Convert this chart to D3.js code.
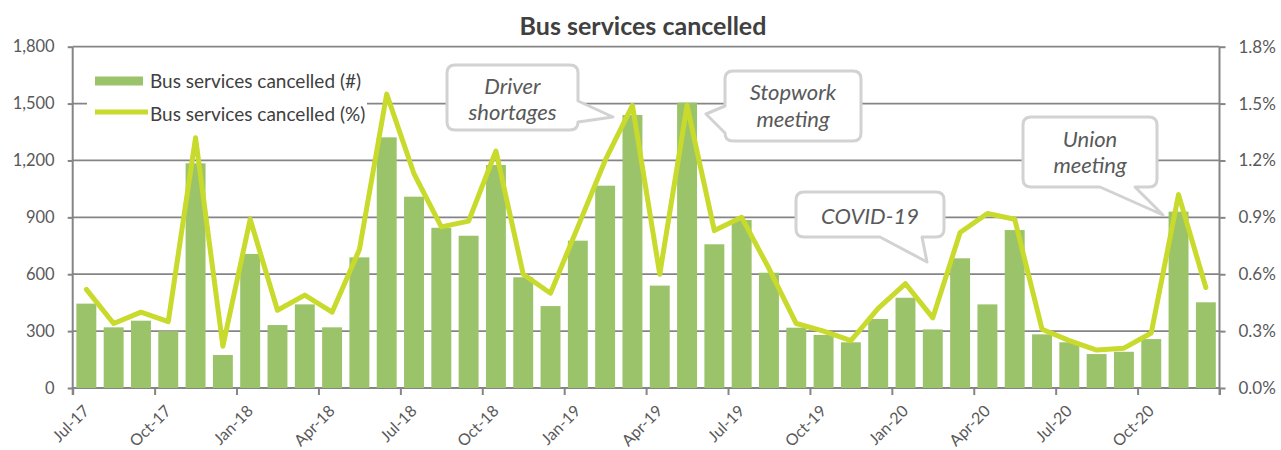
<!DOCTYPE html>
<html>
<head>
<meta charset="utf-8">
<script src="https://cdn.jsdelivr.net/npm/d3@7"></script>
<style>
  html, body { margin: 0; padding: 0; background: #fff; }
  svg { display: block; }
  text { font-family: Lato, "Open Sans", sans-serif; }
</style>
</head>
<body>
<svg id="chart" width="1281" height="450"></svg>
<script>
// ---------- DATA ----------
const months = [
  "Jul-17","Aug-17","Sep-17","Oct-17","Nov-17","Dec-17",
  "Jan-18","Feb-18","Mar-18","Apr-18","May-18","Jun-18","Jul-18","Aug-18","Sep-18","Oct-18","Nov-18","Dec-18",
  "Jan-19","Feb-19","Mar-19","Apr-19","May-19","Jun-19","Jul-19","Aug-19","Sep-19","Oct-19","Nov-19","Dec-19",
  "Jan-20","Feb-20","Mar-20","Apr-20","May-20","Jun-20","Jul-20","Aug-20","Sep-20","Oct-20","Nov-20","Dec-20"
];
const cancelledCount = [
  445, 320, 355, 300, 1185, 174,
  707, 332, 441, 320, 689, 1322, 1009, 845, 803, 1176, 584, 432,
  777, 1067, 1440, 540, 1505, 758, 886, 608, 318, 280, 241, 364,
  476, 309, 684, 441, 833, 283, 241, 179, 191, 258, 930, 452
];
const cancelledPct = [
  0.52, 0.34, 0.40, 0.35, 1.32, 0.22,
  0.89, 0.41, 0.49, 0.40, 0.73, 1.55, 1.13, 0.85, 0.88, 1.25, 0.60, 0.50,
  0.85, 1.20, 1.49, 0.60, 1.49, 0.83, 0.90, 0.63, 0.34, 0.30, 0.25, 0.42,
  0.55, 0.37, 0.82, 0.92, 0.89, 0.31, 0.25, 0.20, 0.21, 0.29, 1.02, 0.53
];
const xTickLabels = ["Jul-17","Oct-17","Jan-18","Apr-18","Jul-18","Oct-18","Jan-19","Apr-19","Jul-19","Oct-19","Jan-20","Apr-20","Jul-20","Oct-20"];
const leftTicks = [0, 300, 600, 900, 1200, 1500, 1800];
const rightTicks = [0, 0.3, 0.6, 0.9, 1.2, 1.5, 1.8];
const seriesNames = ["Bus services cancelled (#)", "Bus services cancelled (%)"];
const titleText = "Bus services cancelled";

// ---------- LAYOUT / STYLE ----------
const W = 1281, H = 450;
const L = 72.7, R = 1219.5, T = 46.7, B = 388;
const barColor = "#9bc46a";
const lineColor = "#c8da2b";
const axisColor = "#858585";
const textColor = "#595959";

const svg = d3.select("#chart");

const x = d3.scaleBand().domain(months).range([L, R]).paddingInner(0.27).paddingOuter(0.135);
const xIdx = d3.scaleLinear().domain([0, months.length]).range([L, R]);
const yL = d3.scaleLinear().domain([0, 1800]).range([B, T]);
const yR = d3.scaleLinear().domain([0, 1.8]).range([B, T]);

// title
svg.append("text")
  .attr("x", 643).attr("y", 35)
  .attr("text-anchor", "middle")
  .attr("font-size", 25).attr("font-weight", "bold")
  .attr("fill", "#404040")
  .text(titleText);

// gridlines
svg.append("g").selectAll("line")
  .data(leftTicks.filter(d => d > 0))
  .join("line")
  .attr("x1", L).attr("x2", R)
  .attr("y1", d => yL(d)).attr("y2", d => yL(d))
  .attr("stroke", axisColor).attr("stroke-width", 1.75);

// left axis
const gL = svg.append("g").attr("transform", `translate(${L},0)`)
  .call(d3.axisLeft(yL).tickValues(leftTicks).tickSize(5).tickPadding(13).tickFormat(d3.format(",")));
// right axis
const gR = svg.append("g").attr("transform", `translate(${R},0)`)
  .call(d3.axisRight(yR).tickValues(rightTicks).tickSize(6).tickPadding(13).tickFormat(d => d.toFixed(1) + "%"));
// bottom axis
const bottomTickIdx = d3.range(0, months.length + 1, 3);
const gB = svg.append("g").attr("transform", `translate(0,${B})`)
  .call(d3.axisBottom(xIdx).tickValues(bottomTickIdx).tickSize(7).tickFormat(i => xTickLabels[i / 3] || ""));

[gL, gR, gB].forEach(g => {
  g.select(".domain").attr("stroke", axisColor).attr("stroke-width", 2);
  g.selectAll(".tick line").attr("stroke", axisColor).attr("stroke-width", 2);
  g.selectAll("text").attr("fill", textColor).attr("font-size", 17).attr("font-family", "Lato, sans-serif");
});
gL.selectAll(".tick text").attr("font-size", 16.5);
gL.select(".domain").attr("d", `M0,${T}V${B + 7}`);
gR.select(".domain").attr("d", `M0,${T}V${B + 7}`);
gB.select(".domain").attr("d", `M${L},0H${R}`);
gB.selectAll(".tick text")
  .attr("text-anchor", "end")
  .attr("font-size", 16)
  .attr("y", 0).attr("dy", 0)
  .attr("transform", "translate(17,24) rotate(-45)");

// bars
svg.append("g").selectAll("rect")
  .data(months)
  .join("rect")
  .attr("x", d => x(d))
  .attr("width", x.bandwidth())
  .attr("y", (d, i) => yL(cancelledCount[i]))
  .attr("height", (d, i) => B - yL(cancelledCount[i]))
  .attr("fill", barColor);

// line
const line = d3.line()
  .x((d, i) => x(months[i]) + x.bandwidth() / 2)
  .y(d => yR(d));
svg.append("path")
  .datum(cancelledPct)
  .attr("d", line)
  .attr("fill", "none")
  .attr("stroke", lineColor)
  .attr("stroke-width", 5)
  .attr("stroke-linejoin", "round")
  .attr("stroke-linecap", "round");

// legend
const lg = svg.append("g");
lg.append("rect").attr("x", 87).attr("y", 66).attr("width", 280).attr("height", 62).attr("fill", "#fff");
lg.append("rect").attr("x", 95).attr("y", 76.5).attr("width", 48).attr("height", 9).attr("fill", barColor);
lg.append("line").attr("x1", 95).attr("x2", 148).attr("y1", 112).attr("y2", 112)
  .attr("stroke", lineColor).attr("stroke-width", 5);
lg.selectAll("text.lgt").data(seriesNames).join("text")
  .attr("class", "lgt")
  .attr("x", 150).attr("y", (d, i) => [87.5, 120.5][i])
  .attr("font-size", 19).attr("fill", "#404040")
  .text(d => d);

// callouts (annotation layout)
function calloutPath(b, tail) {
  const { x0, y0, x1, y1 } = b, r = 8;
  let p = `M${x0 + r},${y0}H${x1 - r}Q${x1},${y0} ${x1},${y0 + r}`;
  if (tail.side === "right") {
    p += `V${tail.a}L${tail.tx},${tail.ty}L${x1},${tail.b}`;
  }
  p += `V${y1 - r}Q${x1},${y1} ${x1 - r},${y1}`;
  if (tail.side === "bottom") {
    p += `H${tail.b}L${tail.tx},${tail.ty}L${tail.a},${y1}`;
  }
  p += `H${x0 + r}Q${x0},${y1} ${x0},${y1 - r}`;
  if (tail.side === "left") {
    p += `V${tail.b}L${tail.tx},${tail.ty}L${x0},${tail.a}`;
  }
  p += `V${y0 + r}Q${x0},${y0} ${x0 + r},${y0}Z`;
  return p;
}
const callouts = [
  { lines: ["Driver", "shortages"], box: { x0: 447, y0: 65, x1: 578, y1: 130 },
    tail: { side: "right", a: 101, b: 122, tx: 613, ty: 117 }, cx: 512.5, ys: [93.5, 120] },
  { lines: ["Stopwork", "meeting"], box: { x0: 725, y0: 71, x1: 861, y1: 141 },
    tail: { side: "left", a: 106, b: 133, tx: 706, ty: 114 }, cx: 793, ys: [100, 127] },
  { lines: ["COVID-19"], box: { x0: 796, y0: 192, x1: 944, y1: 237 },
    tail: { side: "bottom", a: 880, b: 922, tx: 927, ty: 262 }, cx: 870, ys: [224] },
  { lines: ["Union", "meeting"], box: { x0: 1023, y0: 117, x1: 1157, y1: 187 },
    tail: { side: "bottom", a: 1100, b: 1135, tx: 1163, ty: 215 }, cx: 1090, ys: [147, 173] }
];
const cg = svg.append("g");
callouts.forEach(c => {
  cg.append("path").attr("d", calloutPath(c.box, c.tail))
    .attr("fill", "#fff").attr("stroke", "#d2d2d2").attr("stroke-width", 3)
    .attr("stroke-linejoin", "round");
  c.lines.forEach((t, i) => {
    cg.append("text").attr("x", c.cx).attr("y", c.ys[i])
      .attr("text-anchor", "middle").attr("font-style", "italic")
      .attr("font-size", 22).attr("fill", textColor).text(t);
  });
});
</script>
</body>
</html>
